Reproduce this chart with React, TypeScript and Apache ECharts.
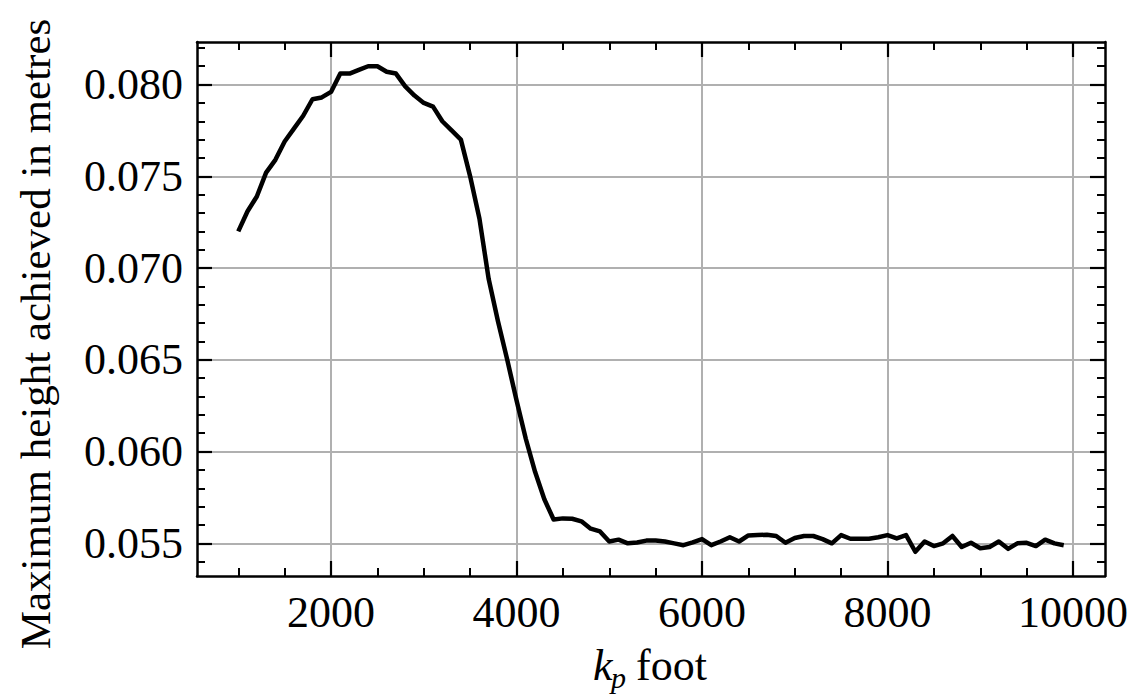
import React, { useEffect, useRef } from "react";
import * as echarts from "echarts";

const kpValues = [
  1000, 1100, 1200, 1300, 1400, 1500, 1600, 1700, 1800, 1900,
  2000, 2100, 2200, 2300, 2400, 2500, 2600, 2700, 2800, 2900,
  3000, 3100, 3200, 3300, 3400, 3500, 3600, 3700, 3800, 3900,
  4000, 4100, 4200, 4300, 4400, 4500, 4600, 4700, 4800, 4900,
  5000, 5100, 5200, 5300, 5400, 5500, 5600, 5700, 5800, 5900,
  6000, 6100, 6200, 6300, 6400, 6500, 6600, 6700, 6800, 6900,
  7000, 7100, 7200, 7300, 7400, 7500, 7600, 7700, 7800, 7900,
  8000, 8100, 8200, 8300, 8400, 8500, 8600, 8700, 8800, 8900,
  9000, 9100, 9200, 9300, 9400, 9500, 9600, 9700, 9800, 9900,
];

const maxHeights = [
  0.0720, 0.0731, 0.0739, 0.0752, 0.0759, 0.0769, 0.0776, 0.0783, 0.0792, 0.0793,
  0.0796, 0.0806, 0.0806, 0.0808, 0.0810, 0.0810, 0.0807, 0.0806, 0.0799, 0.0794,
  0.0790, 0.0788, 0.0780, 0.0775, 0.0770, 0.0750, 0.0727, 0.0694, 0.0671, 0.0650,
  0.0628, 0.0607, 0.0589, 0.0574, 0.0563, 0.05636, 0.05634, 0.0562, 0.0558, 0.05565,
  0.0551, 0.0552, 0.0550, 0.05505, 0.05515, 0.05515, 0.0551, 0.0550, 0.0549, 0.05505,
  0.05523, 0.0549, 0.0551, 0.05533, 0.0551, 0.05543, 0.05545, 0.05547, 0.0554, 0.05503,
  0.05529, 0.0554, 0.0554, 0.05523, 0.0550, 0.05545, 0.05525, 0.05525, 0.05525, 0.05533,
  0.05545, 0.05527, 0.05545, 0.05454, 0.0551, 0.05485, 0.0550, 0.0554, 0.0548, 0.05503,
  0.05473, 0.0548, 0.0551, 0.0547, 0.0550, 0.05503, 0.05485, 0.0552, 0.0550, 0.0549,
];

const xMajorTicks = [2000, 4000, 6000, 8000, 10000];
const xMinorTicks = [1000, 1500, 2500, 3000, 3500, 4500, 5000, 5500, 6500, 7000, 7500, 8500, 9000, 9500];
const yMajorTicks = [0.055, 0.06, 0.065, 0.07, 0.075, 0.08];
const yMinorTicks = [
  0.054, 0.056, 0.057, 0.058, 0.059, 0.061, 0.062, 0.063, 0.064, 0.066, 0.067,
  0.068, 0.069, 0.071, 0.072, 0.073, 0.074, 0.076, 0.077, 0.078, 0.079, 0.081, 0.082,
];

const yAxisTitle = "Maximum height achieved in metres";

const X_MIN = 555;
const X_MAX = 10345;
const Y_MIN = 0.05322;
const Y_MAX = 0.08232;

const FONT = '"Liberation Serif", "Times New Roman", serif';

export default function App() {
  const ref = useRef<HTMLDivElement>(null);

  useEffect(() => {
    if (!ref.current) return;
    const chart = echarts.init(ref.current, undefined, { renderer: "svg" });
    const gridRect = { left: 197, top: 42, width: 908, height: 534 };
    const grids = [0, 1, 2, 3].map(() => ({ ...gridRect, containLabel: false, outerBoundsMode: "none" }));

    const baseAxis = {
      axisLine: { show: false },
      axisLabel: { show: false },
      splitLine: { show: false },
    };

    const xAxes = [
      {
        type: "value", gridIndex: 0, position: "bottom", min: X_MIN, max: X_MAX,
        axisLine: { show: true, onZero: false, lineStyle: { color: "#000", width: 2.5 } },
        axisTick: { show: true, inside: true, length: 15, customValues: xMajorTicks, lineStyle: { color: "#000", width: 2.2 } },
        axisLabel: {
          show: true, customValues: xMajorTicks, margin: 14, color: "#000",
          fontFamily: FONT, fontSize: 44, formatter: (v: number) => String(v),
        },
        splitLine: { show: true, lineStyle: { color: "#b0b0b0", width: 2 } },
      },
      {
        ...baseAxis, type: "value", gridIndex: 1, position: "bottom", min: X_MIN, max: X_MAX,
        axisTick: { show: true, inside: true, length: 8, customValues: xMinorTicks, lineStyle: { color: "#000", width: 2 } },
      },
      {
        type: "value", gridIndex: 2, position: "top", min: X_MIN, max: X_MAX,
        axisLine: { show: true, onZero: false, lineStyle: { color: "#000", width: 2.5 } },
        axisTick: { show: true, inside: true, length: 15, customValues: xMajorTicks, lineStyle: { color: "#000", width: 2.2 } },
        axisLabel: { show: false },
        splitLine: { show: false },
      },
      {
        ...baseAxis, type: "value", gridIndex: 3, position: "top", min: X_MIN, max: X_MAX,
        axisTick: { show: true, inside: true, length: 8, customValues: xMinorTicks, lineStyle: { color: "#000", width: 2 } },
      },
    ];

    const yAxes = [
      {
        type: "value", gridIndex: 0, position: "left", min: Y_MIN, max: Y_MAX,
        axisLine: { show: true, onZero: false, lineStyle: { color: "#000", width: 2.5 } },
        axisTick: { show: true, inside: true, length: 15, customValues: yMajorTicks, lineStyle: { color: "#000", width: 2.2 } },
        axisLabel: {
          show: true, customValues: yMajorTicks, margin: 14, color: "#000",
          fontFamily: FONT, fontSize: 44, formatter: (v: number) => v.toFixed(3),
        },
        splitLine: { show: true, lineStyle: { color: "#b0b0b0", width: 2 } },
      },
      {
        ...baseAxis, type: "value", gridIndex: 1, position: "left", min: Y_MIN, max: Y_MAX,
        axisTick: { show: true, inside: true, length: 8, customValues: yMinorTicks, lineStyle: { color: "#000", width: 2 } },
      },
      {
        type: "value", gridIndex: 2, position: "right", min: Y_MIN, max: Y_MAX,
        axisLine: { show: true, onZero: false, lineStyle: { color: "#000", width: 2.5 } },
        axisTick: { show: true, inside: true, length: 15, customValues: yMajorTicks, lineStyle: { color: "#000", width: 2.2 } },
        axisLabel: { show: false },
        splitLine: { show: false },
      },
      {
        ...baseAxis, type: "value", gridIndex: 3, position: "right", min: Y_MIN, max: Y_MAX,
        axisTick: { show: true, inside: true, length: 8, customValues: yMinorTicks, lineStyle: { color: "#000", width: 2 } },
      },
    ];

    const seriesData = kpValues.map((k, i) => [k, maxHeights[i]]);

    chart.setOption({
      animation: false,
      backgroundColor: "#fff",
      grid: grids,
      xAxis: xAxes,
      yAxis: yAxes,
      series: [
        {
          type: "line",
          xAxisIndex: 0,
          yAxisIndex: 0,
          data: seriesData,
          showSymbol: false,
          symbol: "none",
          lineStyle: { color: "#000", width: 4.5, join: "round" },
          z: 5,
        },
      ],
      graphic: [
        {
          type: "text",
          x: 35,
          y: 334,
          rotation: Math.PI / 2,
          style: { text: yAxisTitle, font: `43px ${FONT}`, fill: "#000", align: "center", verticalAlign: "middle" },
        },
        {
          type: "group",
          children: [
            { type: "text", style: { text: "k", x: 593, y: 665, font: `italic 44px ${FONT}`, fill: "#000", verticalAlign: "middle", align: "left" } },
            { type: "text", style: { text: "p", x: 611, y: 677, font: `italic 30px ${FONT}`, fill: "#000", verticalAlign: "middle", align: "left" } },
            { type: "text", style: { text: "foot", x: 636, y: 665, font: `44px ${FONT}`, fill: "#000", verticalAlign: "middle", align: "left" } },
          ],
        },
      ],
    });

    return () => chart.dispose();
  }, []);

  return (
    <div
      ref={ref}
      style={{ position: "absolute", left: 0, top: 0, width: 1128, height: 694 }}
    />
  );
}
